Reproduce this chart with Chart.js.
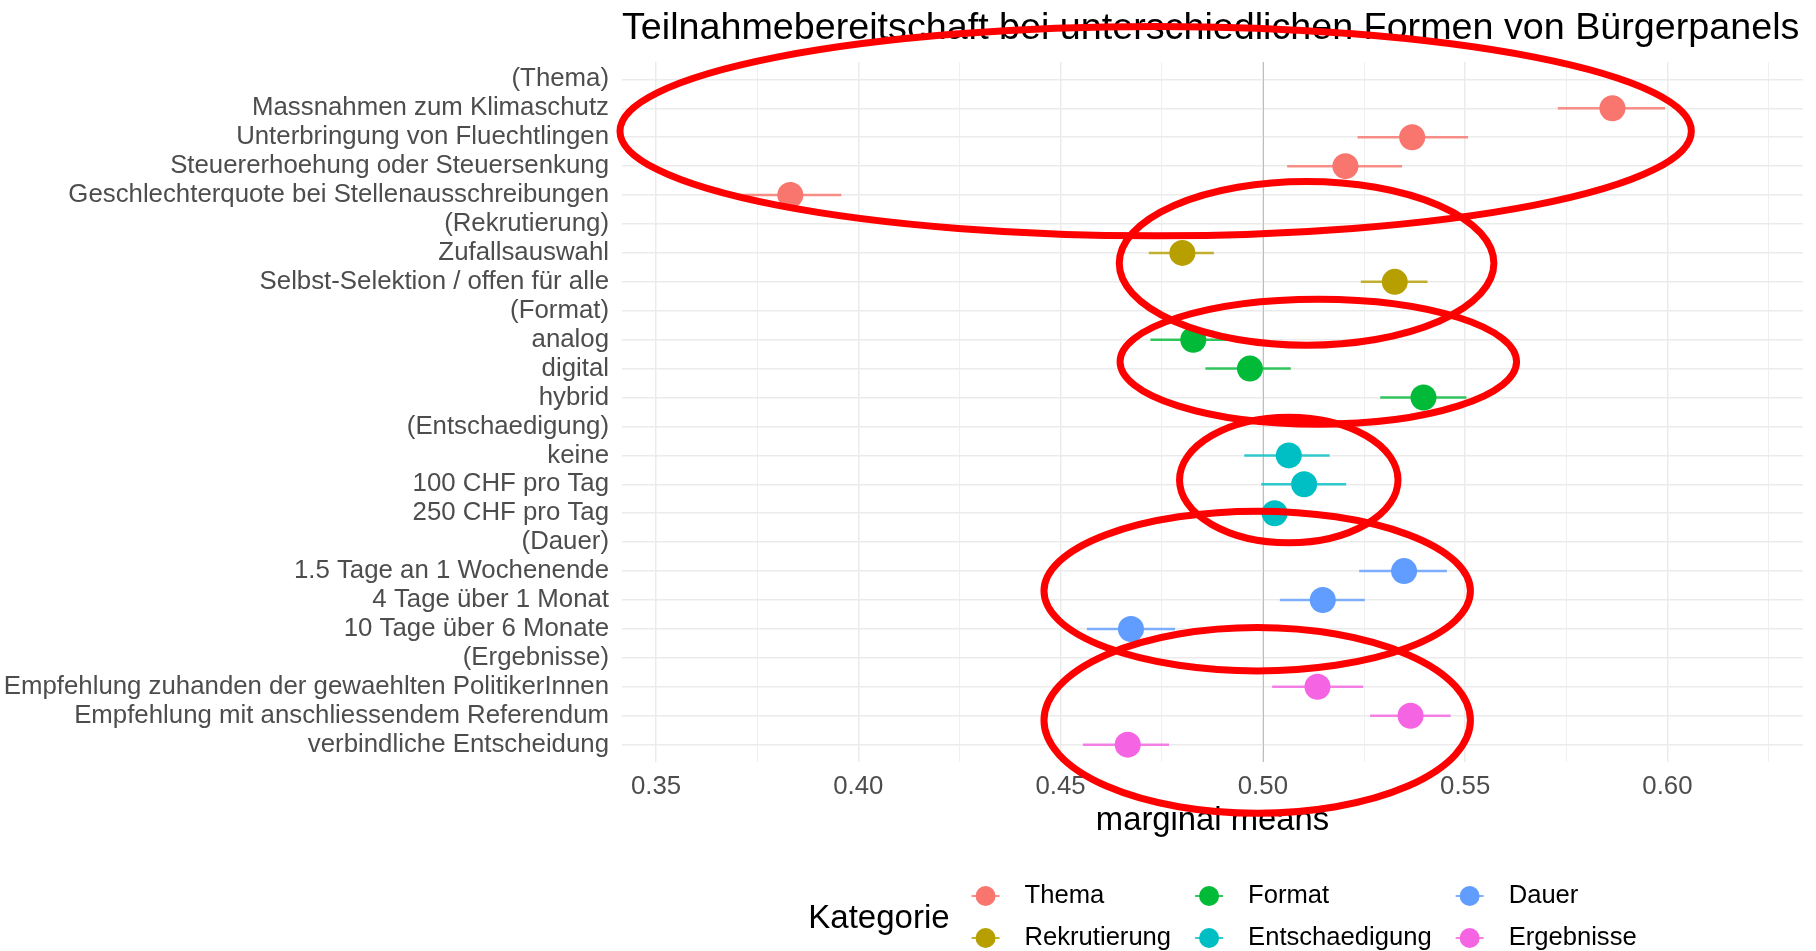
<!DOCTYPE html>
<html>
<head>
<meta charset="utf-8">
<script src="https://cdn.jsdelivr.net/npm/chart.js@4.4.1/dist/chart.umd.min.js"></script>
<style>
  html, body { margin: 0; padding: 0; background: #fff; overflow: hidden; }
  #wrap { width: 1816px; height: 951px; }
  #wrap canvas { display: block; }
</style>
</head>
<body>
<div id="wrap"><canvas id="mm-chart"></canvas></div>
<script>
/**
 * Data
 */
const chartTitle = 'Teilnahmebereitschaft bei unterschiedlichen Formen von Bürgerpanels';
const xTitle = 'marginal means';
const legendTitle = 'Kategorie';

const groupNames = ['Thema', 'Rekrutierung', 'Format', 'Entschaedigung', 'Dauer', 'Ergebnisse'];
const groupColors = ['#F8766D', '#B79F00', '#00BA38', '#00BFC4', '#619CFF', '#F564E3'];

const levels = [
  '(Thema)',
  'Massnahmen zum Klimaschutz',
  'Unterbringung von Fluechtlingen',
  'Steuererhoehung oder Steuersenkung',
  'Geschlechterquote bei Stellenausschreibungen',
  '(Rekrutierung)',
  'Zufallsauswahl',
  'Selbst-Selektion / offen für alle',
  '(Format)',
  'analog',
  'digital',
  'hybrid',
  '(Entschaedigung)',
  'keine',
  '100 CHF pro Tag',
  '250 CHF pro Tag',
  '(Dauer)',
  '1.5 Tage an 1 Wochenende',
  '4 Tage über 1 Monat',
  '10 Tage über 6 Monate',
  '(Ergebnisse)',
  'Empfehlung zuhanden der gewaehlten PolitikerInnen',
  'Empfehlung mit anschliessendem Referendum',
  'verbindliche Entscheidung'
];
const levelGroup = [0, 0, 0, 0, 0, 1, 1, 1, 2, 2, 2, 2, 3, 3, 3, 3, 4, 4, 4, 4, 5, 5, 5, 5];

const estimate = [null, 0.5864, 0.5369, 0.5204, 0.3832, null, 0.4801, 0.5326, null, 0.4828, 0.4968, 0.5397,
  null, 0.5064, 0.5102, 0.5029, null, 0.5349, 0.5148, 0.4674, null, 0.5135, 0.5365, 0.4666];
const lower = [null, 0.5729, 0.5234, 0.5060, 0.3706, null, 0.4718, 0.5242, null, 0.4722, 0.4858, 0.5290,
  null, 0.4954, 0.4996, 0.4924, null, 0.5238, 0.5042, 0.4565, null, 0.5023, 0.5265, 0.4555];
const upper = [null, 0.5994, 0.5507, 0.5344, 0.3958, null, 0.4879, 0.5407, null, 0.4931, 0.5069, 0.5503,
  null, 0.5165, 0.5206, 0.5134, null, 0.5455, 0.5252, 0.4783, null, 0.5248, 0.5464, 0.4768];

const xTicks = [0.35, 0.40, 0.45, 0.50, 0.55, 0.60];
const refLine = 0.5;

// red hand-drawn rings on top of the plot (x value, row index, radii in the same units)
const highlights = [
  { x: 0.4735, y: 1.79, rx: 0.1324, ry: 3.62 },
  { x: 0.5108, y: 6.36, rx: 0.0463, ry: 2.83 },
  { x: 0.5137, y: 9.76, rx: 0.0490, ry: 2.16 },
  { x: 0.5064, y: 13.85, rx: 0.0270, ry: 2.17 },
  { x: 0.4986, y: 17.69, rx: 0.0527, ry: 2.76 },
  { x: 0.4986, y: 22.16, rx: 0.0527, ry: 3.21 }
];

/**
 * Helpers
 */
const fontFamily = "'Liberation Sans', Arial, Helvetica, sans-serif";

const withAlpha = (hex, a) => {
  const n = parseInt(hex.slice(1), 16);
  return `rgba(${(n >> 16) & 255}, ${(n >> 8) & 255}, ${n & 255}, ${a})`;
};

const buildDatasets = () => groupNames.map((name, g) => ({
  label: name,
  data: levels
    .map((_, i) => ({ x: estimate[i], y: i }))
    .filter((p, i) => levelGroup[i] === g && estimate[i] !== null),
  backgroundColor: groupColors[g],
  borderWidth: 0,
  pointRadius: 13,
  pointHoverRadius: 13
}));

/**
 * Plugins
 */
const rangePlugin = {
  id: 'rangeLines',
  beforeDatasetsDraw(chart) {
    const { ctx, chartArea, scales: { x, y } } = chart;
    ctx.save();
    // reference line at 0.5
    ctx.strokeStyle = '#bebebe';
    ctx.lineWidth = 1;
    ctx.beginPath();
    ctx.moveTo(Math.round(x.getPixelForValue(refLine)) + 0.5, chartArea.top);
    ctx.lineTo(Math.round(x.getPixelForValue(refLine)) + 0.5, chartArea.bottom);
    ctx.stroke();
    // error bars
    ctx.lineWidth = 2.5;
    chart.data.datasets.forEach((ds, g) => {
      ctx.strokeStyle = withAlpha(groupColors[g], 0.8);
      ds.data.forEach(p => {
        const py = y.getPixelForValue(p.y);
        ctx.beginPath();
        ctx.moveTo(x.getPixelForValue(lower[p.y]), py);
        ctx.lineTo(x.getPixelForValue(upper[p.y]), py);
        ctx.stroke();
      });
    });
    ctx.restore();
  }
};

const decorPlugin = {
  id: 'decor',
  afterDraw(chart) {
    const { ctx, chartArea, scales: { x, y } } = chart;
    ctx.save();

    // title, left aligned with the panel
    ctx.fillStyle = '#000';
    ctx.font = `37.7px ${fontFamily}`;
    ctx.textAlign = 'left';
    ctx.textBaseline = 'middle';
    ctx.fillText(chartTitle, chartArea.left, 29);

    // legend (column-major, 2 rows)
    const rows = 2;
    const cols = Math.ceil(groupNames.length / rows);
    ctx.font = `33px ${fontFamily}`;
    const titleW = ctx.measureText(legendTitle).width;
    ctx.font = `25.6px ${fontFamily}`;
    const colW = [];
    for (let c = 0; c < cols; c++) {
      const names = groupNames.slice(c * rows, c * rows + rows);
      colW.push(Math.max(...names.map(n => ctx.measureText(n).width)));
    }
    const total = titleW + 36 + colW.reduce((s, w) => s + 39 + w, 0) + (cols - 1) * 38;
    let lx = (chartArea.left + chartArea.right) / 2 + 10 - total / 2;
    const rowY = [chart.height - 55, chart.height - 13];

    ctx.fillStyle = '#000';
    ctx.font = `33px ${fontFamily}`;
    ctx.fillText(legendTitle, lx, (rowY[0] + rowY[1]) / 2 + 2);
    lx += titleW + 36;

    ctx.font = `25.6px ${fontFamily}`;
    for (let c = 0; c < cols; c++) {
      for (let r = 0; r < rows; r++) {
        const g = c * rows + r;
        if (g >= groupNames.length) break;
        const cy = rowY[r];
        ctx.strokeStyle = withAlpha(groupColors[g], 0.8);
        ctx.lineWidth = 2;
        ctx.beginPath();
        ctx.moveTo(lx - 14, cy);
        ctx.lineTo(lx + 14, cy);
        ctx.stroke();
        ctx.fillStyle = groupColors[g];
        ctx.beginPath();
        ctx.arc(lx, cy, 10, 0, Math.PI * 2);
        ctx.fill();
        ctx.fillStyle = '#000';
        ctx.fillText(groupNames[g], lx + 39, cy);
      }
      lx += 39 + colW[c] + 38;
    }

    // red rings
    ctx.strokeStyle = '#ff0000';
    ctx.lineWidth = 7;
    highlights.forEach(h => {
      const cx = x.getPixelForValue(h.x);
      const cy = y.getPixelForValue(h.y);
      const rx = Math.abs(x.getPixelForValue(h.x + h.rx) - cx);
      const ry = Math.abs(y.getPixelForValue(h.y + h.ry) - cy);
      ctx.beginPath();
      ctx.ellipse(cx, cy, rx, ry, 0, 0, Math.PI * 2);
      ctx.stroke();
    });

    ctx.restore();
  }
};

/**
 * Chart
 */
const createGraphic = () => {
  const ctx = document.getElementById('mm-chart').getContext('2d');
  Chart.defaults.font.family = fontFamily;

  const minorTicks = xTicks.map(v => v + 0.025);

  new Chart(ctx, {
    type: 'scatter',
    data: { datasets: buildDatasets() },
    options: {
      responsive: true,
      maintainAspectRatio: false,
      animation: false,
      devicePixelRatio: 1,
      events: [],
      layout: { padding: { left: 0, right: 0, top: 62, bottom: 110 } },
      plugins: {
        legend: { display: false },
        tooltip: { enabled: false },
        title: { display: false }
      },
      scales: {
        x: {
          type: 'linear',
          min: 0.3416,
          max: 0.6335,
          afterBuildTicks: axis => {
            axis.ticks = xTicks.concat(minorTicks).sort((a, b) => a - b).map(v => ({ value: v }));
          },
          afterFit: axis => { axis.height = 79; },
          ticks: {
            autoSkip: false,
            maxRotation: 0,
            padding: 9,
            color: '#4d4d4d',
            font: { size: 25.8 },
            callback: v => xTicks.some(t => Math.abs(t - v) < 1e-9) ? v.toFixed(2) : ''
          },
          grid: {
            drawTicks: false,
            color: '#ebebeb',
            lineWidth: c => xTicks.some(t => Math.abs(t - c.tick.value) < 1e-9) ? 1.5 : 0.8
          },
          border: { display: false },
          title: {
            display: true,
            text: xTitle,
            color: '#000',
            font: { size: 32.8 },
            padding: 0
          }
        },
        y: {
          type: 'linear',
          reverse: true,
          min: -0.6,
          max: levels.length - 0.4,
          afterBuildTicks: axis => {
            axis.ticks = levels.map((_, i) => ({ value: i }));
          },
          afterFit: axis => { axis.width = 622; },
          ticks: {
            autoSkip: false,
            padding: 13,
            color: '#4d4d4d',
            font: { size: 25.8 },
            callback: v => levels[v]
          },
          grid: {
            drawTicks: false,
            color: '#ebebeb',
            lineWidth: 1.5
          },
          border: { display: false }
        }
      }
    },
    plugins: [rangePlugin, decorPlugin]
  });
};

/**
 * Events
 */
document.addEventListener('DOMContentLoaded', () => {
  createGraphic();
});
</script>
</body>
</html>
